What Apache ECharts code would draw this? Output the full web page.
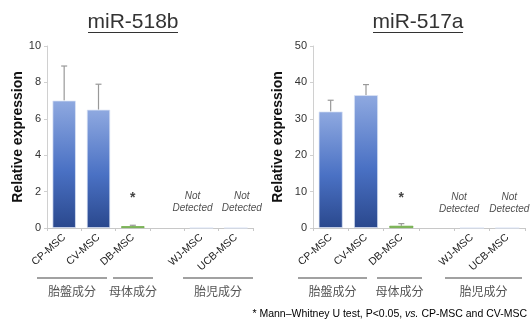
<!DOCTYPE html>
<html><head><meta charset="utf-8">
<script src="https://cdn.jsdelivr.net/npm/echarts@6/dist/echarts.min.js"></script>
<style>html,body{margin:0;padding:0;background:#fff}#c{width:531px;height:327px}</style>
</head><body><div id="c"></div>
<script>
var categories = ['CP-MSC','CV-MSC','DB-MSC','','WJ-MSC','UCB-MSC'];
var titles = ['miR-518b','miR-517a'];
var values518b = [7.0, 6.5, 0.1, null, 0, 0];
var errors518b = [1.9, 1.4, 0.05, null, null, null];
var values517a = [32.0, 36.5, 0.6, null, 0, 0];
var errors517a = [3.1, 2.9, 0.6, null, null, null];
var yTicks518b = {min:0, max:10, interval:2};
var yTicks517a = {min:0, max:50, interval:10};
var starY = [1.65, 8.2];
var notDetectedY = [1.4, 6.9];
var groupNames = ['胎盤成分','母体成分','胎児成分'];
var footnote = '* Mann–Whitney U test, P<0.05, ';

var F = 'Liberation Sans, Arial, sans-serif';
var chart = echarts.init(document.getElementById('c'));
var blue = new echarts.graphic.LinearGradient(0,0,0,1,[
  {offset:0,color:'#8fa9e0'},{offset:0.55,color:'#4a71c4'},{offset:1,color:'#2a488d'}]);
var dbColor = '#7db752';

function barData(vals){
  return vals.map(function(v,i){
    if(v===null) return '-';
    return {value:v, itemStyle: i===2 ? {color:dbColor, borderColor:'#6aa843', borderWidth:0.8} : {color:blue}};
  });
}
function errData(vals, errs){
  var out=[];
  vals.forEach(function(v,i){ if(errs[i]!==null && v!==null) out.push([i, v, v+errs[i]]); });
  return out;
}
function errSeries(idx, vals, errs){
  return {type:'custom', xAxisIndex:idx, yAxisIndex:idx, z:1,
    data: errData(vals, errs),
    encode:{x:0,y:[1,2]},
    renderItem:function(params, api){
      var lo = api.coord([api.value(0), api.value(1)]);
      var hi = api.coord([api.value(0), api.value(2)]);
      var w = 3;
      return {type:'group', children:[
        {type:'line', shape:{x1:lo[0],y1:lo[1],x2:hi[0],y2:hi[1]}, style:{stroke:'#999',lineWidth:1.2}},
        {type:'line', shape:{x1:hi[0]-w,y1:hi[1],x2:hi[0]+w,y2:hi[1]}, style:{stroke:'#999',lineWidth:1.2}}
      ]};
    }};
}
function textSeries(idx, pts, fmt, style, offs){
  return {type:'scatter', xAxisIndex:idx, yAxisIndex:idx, symbolSize:0, silent:true,
    data: pts.map(function(p,k){ return {value:p, label:{offset: offs ? offs[k] : [0,0]}}; }),
    label:Object.assign({show:true, position:'inside', formatter:fmt}, style)};
}
function xAxis(idx){
  return {type:'category', gridIndex:idx, data:categories,
    axisLine:{lineStyle:{color:'#c8c8c8'}},
    axisTick:{show:true, alignWithLabel:false, length:3, lineStyle:{color:'#c8c8c8'}},
    axisLabel:{rotate:42, fontSize:10.5, color:'#222', fontFamily:F, margin:8, interval:0}};
}
function yAxis(idx, t, gap){
  return {type:'value', gridIndex:idx, min:t.min, max:t.max, interval:t.interval,
    name:'Relative expression', nameLocation:'middle', nameGap:gap,
    nameTextStyle:{fontSize:14, fontWeight:'bold', color:'#111', fontFamily:F},
    axisLine:{show:true, lineStyle:{color:'#d0d0d0'}},
    axisTick:{show:true, length:3, lineStyle:{color:'#d0d0d0'}},
    splitLine:{show:false},
    axisLabel:{fontSize:11, color:'#333', fontFamily:F, margin:6}};
}
function barSeries(idx, vals){
  return {type:'bar', xAxisIndex:idx, yAxisIndex:idx, data:barData(vals), barWidth:'68%',
    itemStyle:{borderColor:'rgba(220,228,245,0.9)', borderWidth:0.8}, z:2};
}
var ndStyle = {fontSize:10, fontStyle:'italic', color:'#222', fontFamily:F, lineHeight:12, align:'center'};
var starStyle = {fontSize:14, fontWeight:'bold', color:'#111', fontFamily:F};

var graphics = [];
function addTitle(text, cx, x1, x2){
  graphics.push({type:'text', x:cx, y:12, style:{text:text, font:'21px '+F, fill:'#333', align:'center', verticalAlign:'top'}});
  graphics.push({type:'line', shape:{x1:x1,y1:32.5,x2:x2,y2:32.5}, style:{stroke:'#333',lineWidth:1.2}});
}
function addGroup(x1,x2,label){
  graphics.push({type:'line', shape:{x1:x1,y1:278,x2:x2,y2:278}, style:{stroke:'#444',lineWidth:1.2}});
  graphics.push({type:'text', x:(x1+x2)/2, y:285, style:{text:label, font:'12px Noto Sans CJK JP', fill:'#555', align:'center'}});
}
addTitle(titles[0], 133, 88, 178);
addTitle(titles[1], 418, 373, 463);
addGroup(37,107,groupNames[0]); addGroup(113,153,groupNames[1]); addGroup(183,253,groupNames[2]);
addGroup(298,367,groupNames[0]); addGroup(377,422,groupNames[1]); addGroup(445,522,groupNames[2]);
graphics.push({type:'text', right:4, top:309, style:{
  text:'{n|'+footnote+'}{i|vs.}{n| CP-MSC and CV-MSC}',
  rich:{n:{fontSize:10.5, fontFamily:F, color:'#111'}, i:{fontSize:10.5, fontFamily:F, fontStyle:'italic', color:'#111'}}}});

var opt = {
  animation:false,
  grid:[
    {left:47, right:278, top:46, bottom:99},
    {left:313, right:6, top:46, bottom:99}
  ],
  xAxis:[xAxis(0), xAxis(1)],
  yAxis:[yAxis(0, yTicks518b, 21), yAxis(1, yTicks517a, 28)],
  series:[
    barSeries(0, values518b), errSeries(0, values518b, errors518b),
    barSeries(1, values517a), errSeries(1, values517a, errors517a),
    textSeries(0, [[2, starY[0]]], '*', starStyle),
    textSeries(1, [[2, starY[1]]], '*', starStyle),
    textSeries(0, [[4, notDetectedY[0]],[5, notDetectedY[0]]], 'Not\nDetected', ndStyle, [[-9,0],[6,0]]),
    textSeries(1, [[4, notDetectedY[1]],[5, notDetectedY[1]]], 'Not\nDetected', ndStyle, [[-13,0],[2,0]])
  ],
  graphic: graphics
};
chart.setOption(opt);
</script></body></html>
